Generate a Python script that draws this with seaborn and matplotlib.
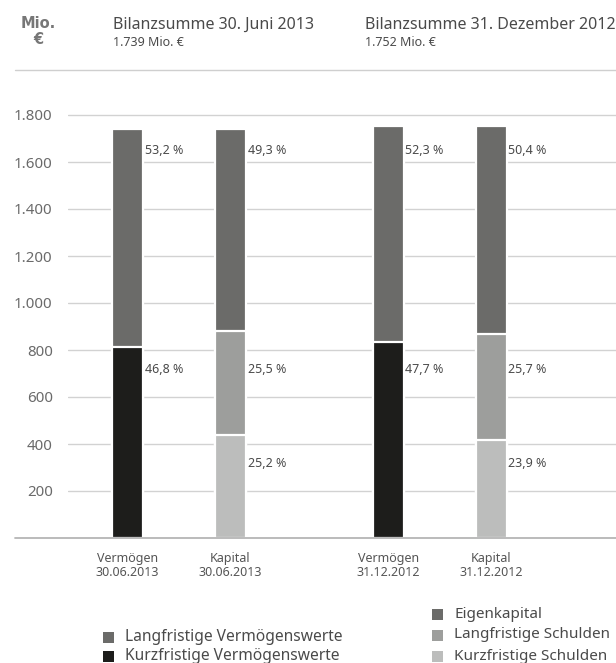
import matplotlib
matplotlib.use("Agg")
import matplotlib.pyplot as plt
from matplotlib.lines import Line2D
from matplotlib.patches import Rectangle
import pandas as pd
import seaborn as sns

# --- data -------------------------------------------------------------
bar_names = ["Vermögen\n30.06.2013", "Kapital\n30.06.2013",
             "Vermögen\n31.12.2012", "Kapital\n31.12.2012"]
bar_pos = [0.0, 1.0, 2.53, 3.53]
bar_totals = [1739, 1739, 1752, 1752]          # Mio. €

# segment names per bar, bottom to top
vermoegen_segments = ["Kurzfristige Vermögenswerte", "Langfristige Vermögenswerte"]
kapital_segments = ["Kurzfristige Schulden", "Langfristige Schulden", "Eigenkapital"]

# shares in percent, bottom to top
vermoegen_2013 = [46.8, 53.2]
kapital_2013 = [25.2, 25.5, 49.3]
vermoegen_2012 = [47.7, 52.3]
kapital_2012 = [23.9, 25.7, 50.4]

y_ticks = [200, 400, 600, 800, 1000, 1200, 1400, 1600, 1800]

header_left_title = "Bilanzsumme 30. Juni 2013"
header_left_sub = "1.739 Mio. €"
header_right_title = "Bilanzsumme 31. Dezember 2012"
header_right_sub = "1.752 Mio. €"

palette = {
    "Langfristige Vermögenswerte": "#6b6b69",
    "Kurzfristige Vermögenswerte": "#1d1d1b",
    "Eigenkapital": "#6b6b69",
    "Langfristige Schulden": "#9d9e9c",
    "Kurzfristige Schulden": "#bcbdbc",
}

# --- style ------------------------------------------------------------
sns.set_style("white")
plt.rcParams["font.family"] = ["Noto Sans", "DejaVu Sans"]

W, H = 616, 663
fig = plt.figure(figsize=(W / 100, H / 100), dpi=100)


def fx(x):
    return x / W


def fy(y):
    return 1 - y / H


PX_PER_UNIT = 0.235
y_top = 1890
ax_left, ax_right, ax_base = 68, 616, 538
ax = fig.add_axes([fx(ax_left), fy(ax_base), (ax_right - ax_left) / W,
                   y_top * PX_PER_UNIT / H])

stacks = [
    (vermoegen_segments, vermoegen_2013),
    (kapital_segments, kapital_2013),
    (vermoegen_segments, vermoegen_2012),
    (kapital_segments, kapital_2012),
]

# cumulative heights per bar, bottom to top
cum_heights = []
for (segs, shares), total in zip(stacks, bar_totals):
    acc, row = 0.0, []
    for s in shares:
        acc += s * total / 100
        row.append(acc)
    cum_heights.append(row)

# draw tiers from the top down so that each lower tier sits in front
n_tiers = max(len(s[0]) for s in stacks)
for tier in range(n_tiers - 1, -1, -1):
    rows = []
    for i, (segs, shares) in enumerate(stacks):
        t = min(tier, len(segs) - 1)
        rows.append({"pos": bar_pos[i], "height": cum_heights[i][t],
                     "segment": segs[t]})
    df = pd.DataFrame(rows)
    sns.barplot(data=df, x="pos", y="height", hue="segment", palette=palette,
                native_scale=True, dodge=False, width=0.30, errorbar=None,
                legend=False, saturation=1, edgecolor="white", linewidth=1.6,
                ax=ax)

# percentage labels beside each segment
label_levels = [1651, 715, 319]   # from the top tier downward
for i, (segs, shares) in enumerate(stacks):
    for k, s in enumerate(reversed(shares)):
        ax.text(bar_pos[i] + 0.165, label_levels[k],
                f"{s:.1f} %".replace(".", ","), ha="left", va="center",
                fontsize=9, color="#4a4a4a")

ax.set_xlim(-0.578, 4.743)
ax.set_ylim(0, y_top)
ax.set_yticks(y_ticks)
ax.set_yticklabels([f"{v:,}".replace(",", ".") for v in y_ticks],
                   fontsize=10.8, color="#6a6a6a")
ax.set_xticks(bar_pos)
ax.set_xticklabels(bar_names, fontsize=9, color="#555555", linespacing=1.15)
ax.tick_params(axis="y", length=0, pad=11)
ax.tick_params(axis="x", length=0, pad=10)
ax.set_xlabel("")
ax.set_ylabel("")
ax.yaxis.grid(True, color="#d2d2d2", linewidth=1.0)
ax.xaxis.grid(False)
ax.set_axisbelow(True)
for sp in ax.spines.values():
    sp.set_visible(False)

# header rule and baseline spanning the full width
fig.add_artist(Line2D([fx(15), fx(616)], [fy(70), fy(70)],
                      color="#cfcfcf", linewidth=1.0))
fig.add_artist(Line2D([fx(15), fx(616)], [fy(538), fy(538)],
                      color="#b5b5b5", linewidth=1.3))

# header texts
fig.text(fx(38.5), fy(28), "Mio.", ha="center", va="baseline",
         fontsize=10.5, fontweight="bold", color="#777777",
         family=["DejaVu Sans"])
fig.text(fx(38.5), fy(44), "€", ha="center", va="baseline",
         fontsize=10.5, fontweight="bold", color="#777777",
         family=["DejaVu Sans"])
fig.text(fx(113), fy(29), header_left_title, ha="left", va="baseline",
         fontsize=11.5, color="#4a4a4a")
fig.text(fx(113), fy(46), header_left_sub, ha="left", va="baseline",
         fontsize=9, color="#4a4a4a")
fig.text(fx(365), fy(29), header_right_title, ha="left", va="baseline",
         fontsize=11.5, color="#4a4a4a")
fig.text(fx(365), fy(46), header_right_sub, ha="left", va="baseline",
         fontsize=9, color="#4a4a4a")

# legends
def legend_entry(x, y, name, size_pt):
    size = 11
    fig.add_artist(Rectangle((fx(x), fy(y + size / 2)), size / W, size / H,
                             transform=fig.transFigure,
                             facecolor=palette[name], edgecolor="none"))
    fig.text(fx(x + 22), fy(y), name, ha="left", va="center",
             fontsize=size_pt, color="#4a4a4a")


legend_entry(103, 637, "Langfristige Vermögenswerte", 11.2)
legend_entry(103, 656, "Kurzfristige Vermögenswerte", 11.2)
legend_entry(432, 614, "Eigenkapital", 11)
legend_entry(432, 635, "Langfristige Schulden", 11)
legend_entry(432, 656, "Kurzfristige Schulden", 11)

fig.savefig("out.png", dpi=100, facecolor="white")
